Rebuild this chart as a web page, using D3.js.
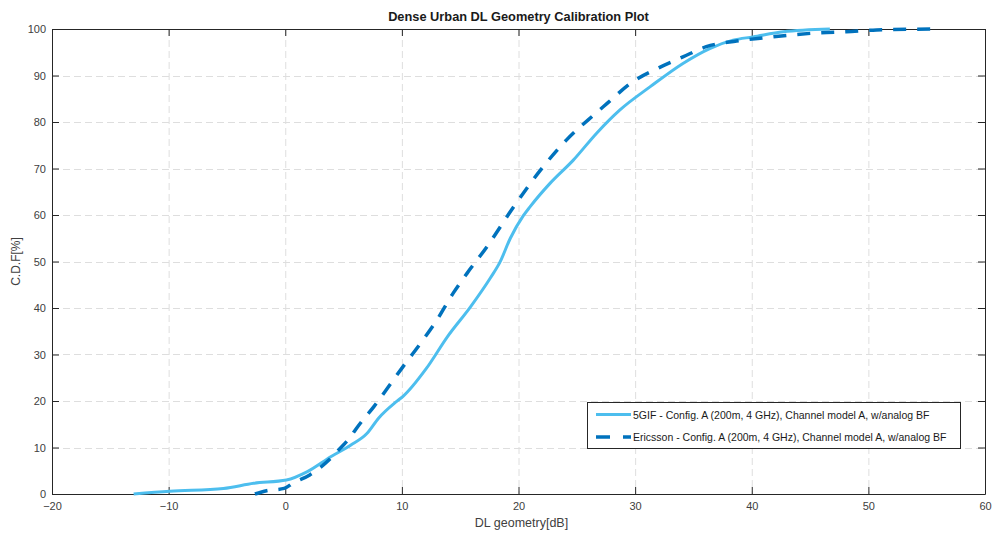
<!DOCTYPE html>
<html>
<head>
<meta charset="utf-8">
<script src="https://cdn.jsdelivr.net/npm/d3@7"></script>
<style>
  html, body { margin: 0; padding: 0; background: #fff; }
  svg { display: block; font-family: "Liberation Sans", Arial, Helvetica, sans-serif; }
</style>
</head>
<body>
<svg id="chart" width="999" height="536"></svg>
<script>
// ---- data ----
const titleText = "Dense Urban DL Geometry Calibration Plot";
const xLabelText = "DL geometry[dB]";
const yLabelText = "C.D.F[%]";
const xTicks = [-20, -10, 0, 10, 20, 30, 40, 50, 60];
const yTicks = [0, 10, 20, 30, 40, 50, 60, 70, 80, 90, 100];
const seriesNames = [
  "5GIF - Config. A (200m, 4 GHz), Channel model A, w/analog BF",
  "Ericsson - Config. A (200m, 4 GHz), Channel model A, w/analog BF"
];
const gifX = [-13, -9.9, -5.3, -2.7, 0.1, 1.9, 3.9, 5.6, 7.0, 8.0, 9.5, 10.1, 12.1, 13.9, 15.9, 17.6, 18.4, 19.3, 20.4, 21.0, 22.7, 24.7, 26.7, 28.7, 31.3, 34.1, 36.4, 38.4, 40.1, 42.7, 46.7];
const gifY = [0, 0.6, 1.2, 2.3, 3.0, 4.8, 8.0, 10.5, 13.0, 16.3, 19.8, 21.0, 27.0, 33.8, 40.3, 46.5, 49.8, 55.0, 59.8, 61.8, 66.8, 71.8, 77.6, 82.6, 87.6, 92.6, 95.8, 97.6, 98.3, 99.4, 100];
const ericX = [-2.6, -1.6, -0.1, 0.7, 2.1, 3.9, 4.7, 5.6, 6.1, 7.6, 10.1, 11.6, 13.0, 14.4, 15.6, 17.3, 19.6, 21.9, 24.1, 26.4, 27.6, 29.7, 31.9, 34.1, 36.1, 38.7, 41.0, 43.3, 45.9, 48.1, 50.7, 56.1];
const ericY = [0, 0.7, 1.2, 2.4, 4.1, 7.7, 9.8, 12.3, 14.1, 18.8, 27.4, 32.4, 37.4, 43.2, 47.5, 53.2, 61.8, 69.7, 76.1, 81.4, 84.0, 88.5, 91.5, 94.0, 96.2, 97.4, 98.1, 98.7, 99.2, 99.4, 99.8, 100];

// ---- layout ----
const svg = d3.select("#chart");
const L = 52, R = 985, T = 29, B = 494;
const x = d3.scaleLinear().domain([-20, 60]).range([L, R]);
const y = d3.scaleLinear().domain([0, 100]).range([B, T]);
const axisColor = "#262626";
const textColor = "#404040";

// grid
const grid = svg.append("g");
grid.selectAll(".gx").data(xTicks.slice(1, -1)).enter().append("line")
  .attr("x1", d => x(d) + 0.5).attr("x2", d => x(d) + 0.5)
  .attr("y1", T).attr("y2", B)
  .attr("stroke", "#dedede").attr("stroke-width", 1).attr("stroke-dasharray", "7,4");
grid.selectAll(".gy").data(yTicks.slice(1, -1)).enter().append("line")
  .attr("y1", d => Math.round(y(d)) + 0.5).attr("y2", d => Math.round(y(d)) + 0.5)
  .attr("x1", L).attr("x2", R)
  .attr("stroke", "#dedede").attr("stroke-width", 1).attr("stroke-dasharray", "7,4");

// axes (bottom/left with labels, top/right ticks only) - inward ticks
const tickLen = 7;
const axB = svg.append("g").attr("transform", `translate(0,${B})`)
  .call(d3.axisBottom(x).tickValues(xTicks).tickSize(-tickLen).tickPadding(8).tickSizeOuter(0));
const axL = svg.append("g").attr("transform", `translate(${L},0)`)
  .call(d3.axisLeft(y).tickValues(yTicks).tickSize(-tickLen).tickPadding(6).tickSizeOuter(0));
const axT = svg.append("g").attr("transform", `translate(0,${T})`)
  .call(d3.axisTop(x).tickValues(xTicks).tickSize(-tickLen).tickFormat("").tickSizeOuter(0));
const axR = svg.append("g").attr("transform", `translate(${R},0)`)
  .call(d3.axisRight(y).tickValues(yTicks).tickSize(-tickLen).tickFormat("").tickSizeOuter(0));
[axB, axL, axT, axR].forEach(a => {
  a.select(".domain").attr("stroke", axisColor);
  a.selectAll(".tick line").attr("stroke", axisColor);
  a.selectAll(".tick text").attr("fill", textColor).style("font-size", "11px")
    .style("font-family", '"Liberation Sans", Arial, sans-serif');
});

// series
const line = d3.line().x(d => x(d[0])).y(d => y(d[1])).curve(d3.curveMonotoneX);
const gifData = gifX.map((v, i) => [v, gifY[i]]);
const ericData = ericX.map((v, i) => [v, ericY[i]]);
svg.append("path").datum(gifData).attr("d", line)
  .attr("fill", "none").attr("stroke", "#4DBEEE").attr("stroke-width", 3)
  .attr("stroke-linejoin", "round");
svg.append("path").datum(ericData).attr("d", line)
  .attr("fill", "none").attr("stroke", "#0072BD").attr("stroke-width", 3.5)
  .attr("stroke-dasharray", "13,11");

// title & labels
svg.append("text").attr("x", (L + R) / 2).attr("y", 21).attr("text-anchor", "middle")
  .style("font-size", "12.8px").style("font-weight", "bold").attr("fill", "#1a1a1a").text(titleText);
svg.append("text").attr("x", (L + R) / 2 + 3).attr("y", 527).attr("text-anchor", "middle")
  .style("font-size", "12.5px").attr("fill", textColor).text(xLabelText);
svg.append("text").attr("transform", `translate(20,${(T + B) / 2}) rotate(-90)`).attr("text-anchor", "middle")
  .style("font-size", "12px").attr("fill", textColor).text(yLabelText);

// legend
const lg = svg.append("g");
lg.append("rect").attr("x", 587.5).attr("y", 402.5).attr("width", 373).attr("height", 46)
  .attr("fill", "#fff").attr("stroke", axisColor).attr("stroke-width", 1);
const legStyles = [
  { color: "#4DBEEE", w: 3, dash: null },
  { color: "#0072BD", w: 3.5, dash: "14,13" }
];
seriesNames.forEach((name, i) => {
  const yy = 414.5 + i * 22.5;
  const s = legStyles[i];
  const ln = lg.append("line").attr("x1", 596).attr("x2", 631).attr("y1", yy).attr("y2", yy)
    .attr("stroke", s.color).attr("stroke-width", s.w);
  if (s.dash) ln.attr("stroke-dasharray", s.dash);
  lg.append("text").attr("x", 633).attr("y", yy + 4).style("font-size", "10.5px")
    .attr("fill", "#1a1a1a").text(name);
});
</script>
</body>
</html>
